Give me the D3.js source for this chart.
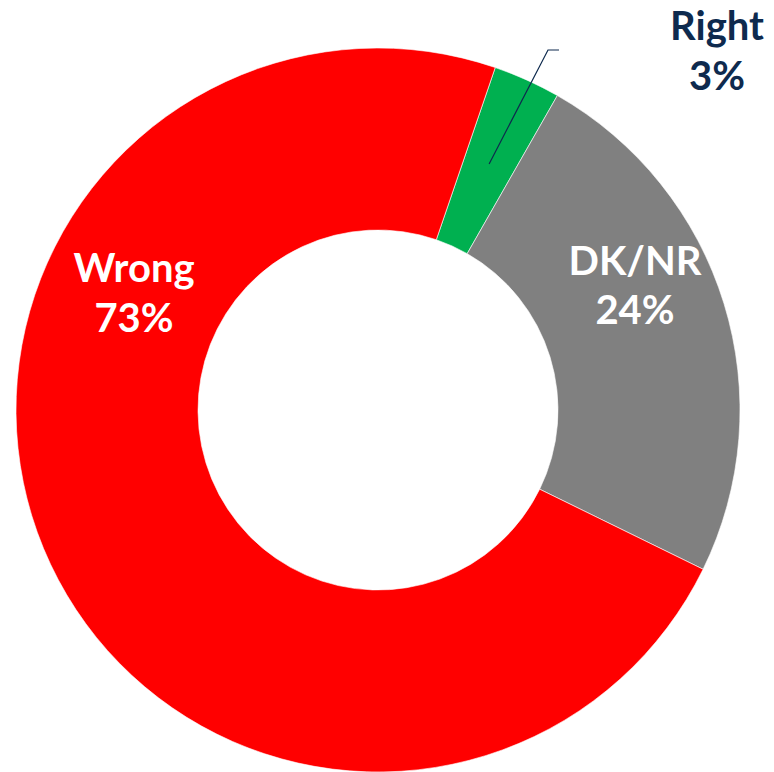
<!DOCTYPE html>
<html>
<head>
<meta charset="utf-8">
<script src="https://cdn.jsdelivr.net/npm/d3@7"></script>
<style>
  html, body { margin: 0; padding: 0; background: #fff; }
</style>
</head>
<body>
<div id="chart"></div>
<script>
// answers, in the order they go round the ring (clockwise from the green slice)
const categories = ["Right", "DK/NR", "Wrong"];
const values = [3, 24, 73];
const colors = ["#00b050", "#808080", "#ff0000"];

const width = 774, height = 772;
const cx = 378, cy = 410;
const outerR = 362, innerR = 180;
const startDeg = 18.9;

const svg = d3.select("#chart").append("svg")
  .attr("width", width)
  .attr("height", height);

const g = svg.append("g").attr("transform", `translate(${cx},${cy})`);

const pie = d3.pie()
  .sort(null)
  .value(d => d)
  .startAngle(startDeg * Math.PI / 180)
  .endAngle(startDeg * Math.PI / 180 + 2 * Math.PI);

const arcs = pie(values);
const arc = d3.arc().innerRadius(innerR).outerRadius(outerR);

g.selectAll("path")
  .data(arcs)
  .enter()
  .append("path")
  .attr("d", arc)
  .attr("fill", (d, i) => colors[i])
  .attr("stroke", "#fff")
  .attr("stroke-width", 0.6);

// label placement (Right sits outside with a leader line)
const labelPos = [
  { x: 717, y: 40, fill: "#0e2a4e", gap: 50 },
  { x: 635, y: 275, fill: "#fff", gap: 49 },
  { x: 134, y: 282, fill: "#fff", gap: 50 }
];

categories.forEach((c, i) => {
  const p = labelPos[i];
  const t = svg.append("text")
    .attr("text-anchor", "middle")
    .style("font-family", "Lato")
    .style("font-weight", "bold")
    .style("font-size", "40px")
    .attr("fill", p.fill);
  t.append("tspan").attr("x", p.x).attr("y", p.y).text(c);
  t.append("tspan").attr("x", p.x).attr("y", p.y + p.gap).text(values[i] + "%");
});

// leader line for the small slice
const mid = (arcs[0].startAngle + arcs[0].endAngle) / 2;
const r0 = 270;
const x0 = cx + r0 * Math.sin(mid), y0 = cy - r0 * Math.cos(mid);
svg.append("path")
  .attr("d", `M${x0},${y0}L548,50L559,50`)
  .attr("fill", "none")
  .attr("stroke", "#0e2a4e")
  .attr("stroke-width", 1.2);
</script>
</body>
</html>
